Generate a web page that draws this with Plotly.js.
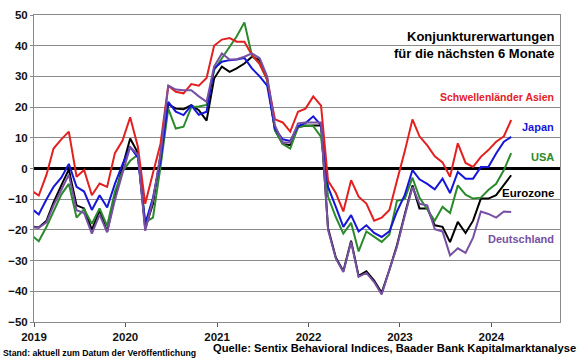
<!DOCTYPE html>
<html>
<head>
<meta charset="utf-8">
<script src="https://cdn.plot.ly/plotly-3.0.1.min.js"></script>
<style>html,body{margin:0;padding:0;background:#fff;}#chart{width:580px;height:359px;}</style>
</head>
<body>
<div id="chart"></div>
<script>
// Monthly survey values, Dec 2018 .. Mar 2024 (Dec 2018 only feeds the clipped line start)
var firstMonth = [2018, 12];
var monthCount = 64;

var schwellenlaenderAsien = [-7.1, -8.8, -2, 6.5, 9.5, 12, -2.7, -0.5, -8.7, -4.9, -6, 5, 9, 16.7, 7, -11.5, -1.5, 8, 27, 25, 24.5, 27.5, 27, 29.5, 40, 42, 42.5, 41.3, 41.3, 37, 34, 29, 16, 15, 12, 18.5, 19.5, 23.5, 20.5, -4, -8, -14, -3.8, -9.2, -11.4, -17, -16, -13.5, -4, 5.5, 16, 10.5, 7.5, 4, 2, -2.7, 8.2, 1.8, 0.5, 3.8, 6, 8.7, 10.5, 15.8];
var japan = [-12.9, -15, -10, -6, -3, 1.5, -6, -7.5, -13.5, -8.7, -12.7, -5, 1.3, 7, 3.5, -18, -9.5, 2.5, 21.7, 18.5, 17.4, 20.6, 17.5, 18.5, 32.6, 34.8, 35.3, 35.5, 36, 32.6, 30, 27, 13, 9.5, 9, 13.8, 14.8, 17, 14.1, -6, -12.5, -19, -15.2, -20.5, -18.5, -21, -22.3, -20.5, -14, -8.7, -0.5, -3.5, -5, -6.8, -3.3, -8, -1.1, -3.3, -3.3, 0.5, 0.5, 4.9, 8.7, 10.3];
var usa = [-21.6, -23.7, -19, -14, -8.5, -5, -16, -13.3, -18, -13, -18.7, -7.5, -1, 2.5, 4.5, -17.5, -16, 0.5, 19.5, 13, 13.6, 20, 20.2, 20.7, 32, 35.9, 39.7, 43, 47.6, 36.8, 34.2, 28.8, 12.5, 8, 6.5, 13.5, 14, 13.8, 10.3, -9.2, -15.8, -21.2, -17.7, -27, -20.5, -22.3, -23.9, -21.5, -10.5, -10, -3, -9.5, -13.3, -17, -12.5, -14.5, -5.5, -8.5, -9.8, -9.5, -7, -5, -0.5, 5];
var eurozone = [-18.9, -19.2, -17, -11, -5.5, -0.3, -12, -13, -20, -13.6, -20.6, -9.2, 0.5, 9.8, 5, -19.5, -11.5, 4, 21, 19.5, 19.3, 20.6, 19, 15.6, 29.3, 33.2, 31.5, 32.6, 34.2, 36.4, 35.3, 29, 12.5, 8, 7.6, 13.5, 13.9, 14, 14, -19.5, -29, -33.5, -23.5, -35, -33.5, -36.5, -40.5, -33, -25, -15, -5.5, -13, -13, -18.5, -19, -24, -17.4, -21, -17, -9.8, -9.8, -8.7, -5.4, -2.2];
var deutschland = [-19.1, -19.3, -17.5, -12, -7, -2, -13.6, -14.5, -21.2, -15, -20.8, -10.3, -1.6, 7, 4.5, -20.3, -10.3, 4.5, 27, 25.7, 25.5, 25.5, 23.5, 21.7, 33.2, 37.5, 35.5, 35.6, 36.4, 37.5, 35.9, 30, 14, 8.5, 8.5, 14.7, 15, 15, 15, -20, -29.3, -33.7, -23.9, -35.3, -34, -37, -41, -33, -25.5, -15.5, -6, -11.5, -12, -19.8, -20.5, -28.3, -26, -27.5, -22.5, -14, -14.8, -16, -14, -14.2];

var seriesNames = ['Schwellenländer Asien', 'Japan', 'USA', 'Eurozone', 'Deutschland'];
var yearLabels = ['2019', '2020', '2021', '2022', '2023', '2024'];
var yTicks = [50, 40, 30, 20, 10, 0, -10, -20, -30, -40, -50];

// survey dates (points sit a little after each month start on the time axis)
var dayOfMonth = '20';
var dates = [];
for (var k = 0; k < monthCount; k++) {
  var m0 = firstMonth[1] - 1 + k;
  var yr = firstMonth[0] + Math.floor(m0 / 12);
  var mo = (m0 % 12) + 1;
  dates.push(yr + '-' + (mo < 10 ? '0' + mo : mo) + '-' + dayOfMonth);
}

var colors = {
  red: '#e3201f', blue: '#1616d8', green: '#2a8a2c', black: '#000000', purple: '#7650a2'
};
var font = 'Liberation Sans, Arial, sans-serif';

function tr(y, c) {
  return {x: dates, y: y, type: 'scatter', mode: 'lines', line: {color: c, width: 2}, hoverinfo: 'skip'};
}
var data = [
  tr(eurozone, colors.black),
  tr(usa, colors.green),
  tr(japan, colors.blue),
  tr(schwellenlaenderAsien, colors.red),
  tr(deutschland, colors.purple)
];

var px = function (p) { return (p - 34) / 526; };
var labelX = px(556);

function ann(text, y, color, size, yref, x, xanchor) {
  return {text: '<b>' + text + '</b>', x: x === undefined ? labelX : x, xref: 'paper', y: y, yref: yref || 'y',
    xanchor: xanchor || 'right', yanchor: 'middle', showarrow: false,
    font: {family: font, size: size, color: color}};
}

var layout = {
  width: 580, height: 359,
  margin: {l: 34, r: 20, t: 15, b: 37},
  paper_bgcolor: '#ffffff', plot_bgcolor: '#ffffff',
  showlegend: false,
  xaxis: {
    type: 'date',
    range: ['2019-01-01', '2024-10-01'],
    tickvals: yearLabels.map(function (y) { return y + '-01-01'; }),
    ticktext: yearLabels,
    ticks: 'outside', ticklen: 4, tickcolor: '#555',
    showgrid: false,
    showline: true, linecolor: '#8a8a8a', linewidth: 1, mirror: true,
    tickfont: {family: font, size: 11.5, color: '#111', weight: 'bold'}
  },
  yaxis: {
    range: [-50, 50],
    tickvals: yTicks,
    ticks: 'outside', ticklen: 3, tickcolor: '#8a8a8a',
    showgrid: true, gridcolor: '#8a8a8a', gridwidth: 1,
    zeroline: true, zerolinecolor: '#000000', zerolinewidth: 2.5,
    showline: true, linecolor: '#8a8a8a', linewidth: 1, mirror: true,
    tickfont: {family: font, size: 11.5, color: '#111', weight: 'bold'}
  },
  annotations: [
    ann('Konjunkturerwartungen', 42.9, '#000', 13),
    ann('für die nächsten 6 Monate', 37.5, '#000', 13),
    ann(seriesNames[0], 23.3, colors.red, 10.5),
    ann(seriesNames[1], 13.5, colors.blue, 11),
    ann(seriesNames[2], 3.8, colors.green, 11),
    ann(seriesNames[3], -7.9, colors.black, 11.5),
    ann(seriesNames[4], -22.8, colors.purple, 11),
    ann('Stand: aktuell zum Datum der Veröffentlichung', -0.1, '#000', 8.7, 'paper', px(1), 'left'),
    ann('Quelle: Sentix Behavioral Indices, Baader Bank Kapitalmarktanalyse', -0.086, '#000', 11.2, 'paper', px(578), 'right')
  ]
};

Plotly.newPlot('chart', data, layout, {staticPlot: true, displayModeBar: false});
</script>
</body>
</html>
